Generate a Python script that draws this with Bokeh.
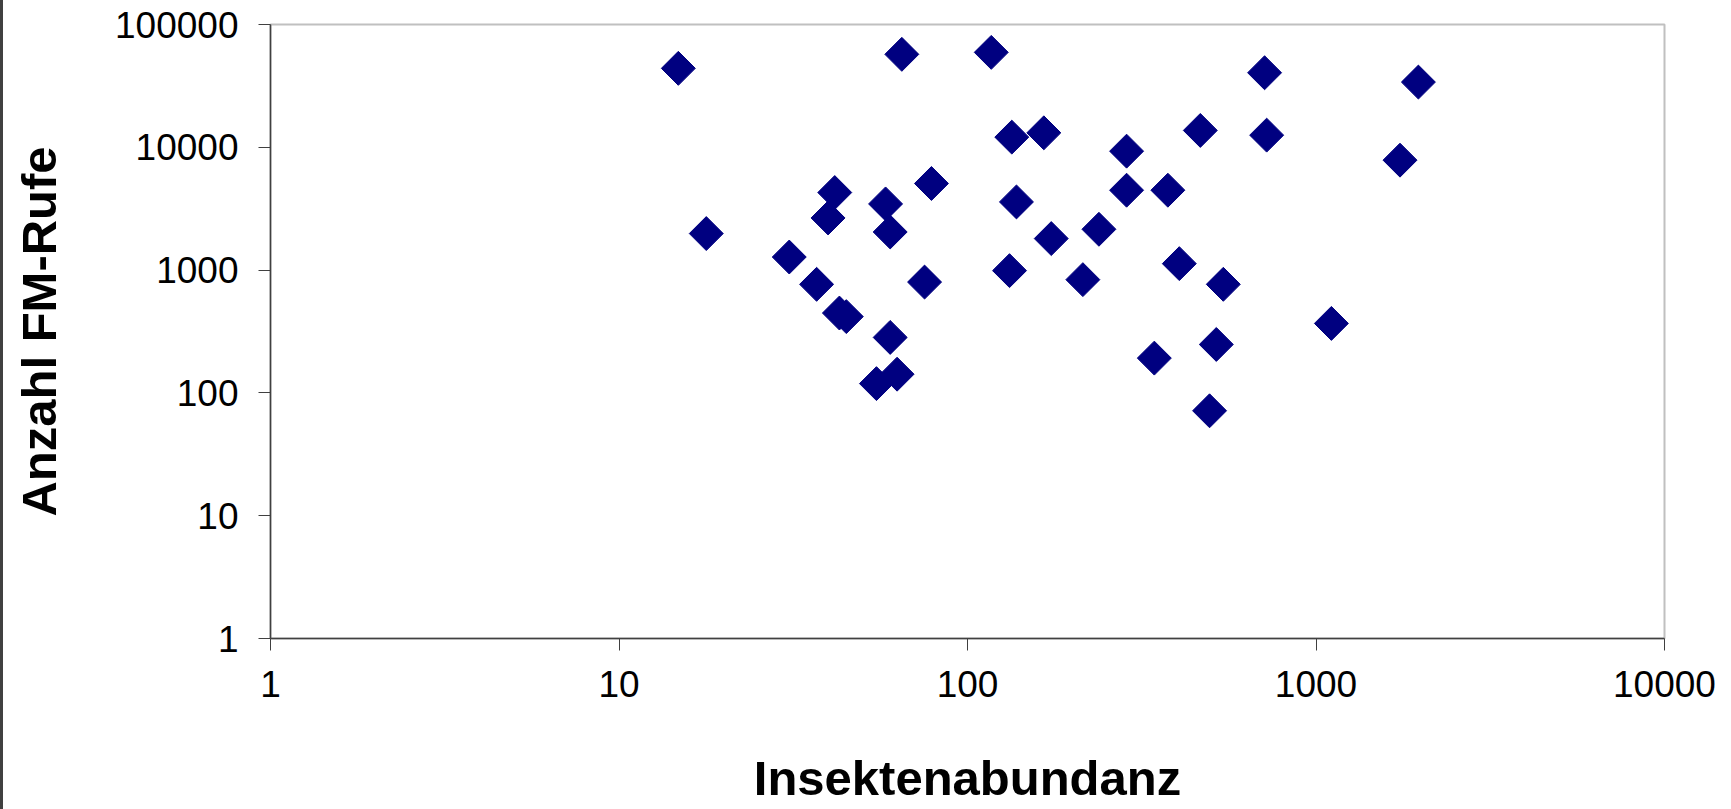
import math
from bokeh.plotting import figure
from bokeh.models import FixedTicker, ColumnDataSource
from bokeh.embed import file_html
from bokeh.resources import INLINE

# Insektenabundanz (x) and Anzahl FM-Rufe (y)
insekten = [14.8, 64.8, 117, 134, 165.6, 41.6, 39.8, 58.2, 60.0, 78.8,
            138.2, 17.8, 173.9, 30.8, 36.9, 42.9, 44.9, 75.3, 132, 60.0,
            54.8, 62.8, 712, 1967, 465.6, 721.8, 1742, 286.1, 286.1, 375.8,
            238.3, 214.3, 405.3, 542, 1107, 343.6, 517.5, 495]
fm_rufe = [43950, 57150, 59300, 12100, 13120, 4282, 2658, 3458, 2044, 5073,
           3590, 1984, 1806, 1278, 766, 447, 418, 799, 990, 283,
           119, 142, 40460, 33970, 13720, 12560, 7857, 9301, 4472, 4472,
           2150, 836, 1129, 766, 368, 192, 248, 71.5]

x_ticks = [1, 10, 100, 1000, 10000]
y_ticks = [1, 10, 100, 1000, 10000, 100000]
x_title = "Insektenabundanz"
y_title = "Anzahl FM-Rufe"

src = ColumnDataSource(data=dict(x=insekten, y=fm_rufe))

p = figure(width=1728, height=809,
           x_axis_type="log", y_axis_type="log",
           x_range=(1, 10000), y_range=(1, 100000),
           output_backend="svg", toolbar_location=None,
           min_border_left=267, min_border_right=67,
           min_border_top=24, min_border_bottom=171,
           background_fill_color="white", border_fill_color="white",
           styles={"border-left": "3px solid #404040"})

p.scatter("x", "y", source=src, marker="square", size=24, angle=math.pi / 4,
          fill_color="#000080", line_color="#000080", line_width=1)

p.grid.visible = False
p.outline_line_color = "#c0c0c0"
p.outline_line_width = 2

for ax, ticks in ((p.xaxis[0], x_ticks), (p.yaxis[0], y_ticks)):
    ax.ticker = FixedTicker(ticks=ticks, minor_ticks=[])
    ax.major_label_overrides = {t: str(t) for t in ticks}
    ax.axis_line_color = "#404040"
    ax.axis_line_width = 1.5
    ax.major_tick_line_color = "#404040"
    ax.major_tick_line_width = 1
    ax.major_tick_out = 12
    ax.major_tick_in = 0
    ax.minor_tick_line_color = None
    ax.major_label_standoff = 20
    ax.major_label_text_font = "Liberation Sans"
    ax.major_label_text_font_size = "37px"
    ax.major_label_text_color = "black"
    ax.axis_label_text_font = "Liberation Sans"
    ax.axis_label_text_font_style = "bold"
    ax.axis_label_text_font_size = "49px"
    ax.axis_label_text_color = "black"

p.xaxis.axis_label = x_title
p.yaxis.axis_label = y_title
p.xaxis.axis_label_standoff = 51
p.yaxis.axis_label_standoff = 46
p.yaxis.major_label_orientation = "horizontal"

open("out.html", "w").write(file_html(p, INLINE))
